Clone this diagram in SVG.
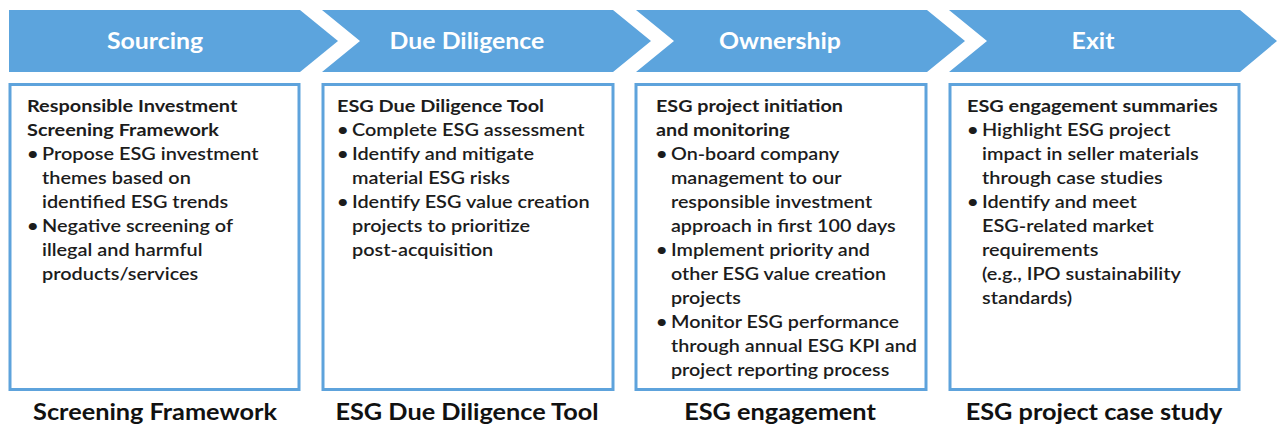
<svg xmlns="http://www.w3.org/2000/svg" width="1277" height="426" viewBox="0 0 1277 426">
  <defs>
    <style>
      .chev { fill: #5ca4dd; }
      .phase { font-family: Lato, "Liberation Sans", sans-serif; font-weight: 700; font-size: 22px; fill: #ffffff; text-anchor: middle; }
      .box { fill: #ffffff; stroke: #5ea3dc; stroke-width: 3; }
      .txt { font-family: Lato, "Liberation Sans", sans-serif; font-size: 17px; fill: #1c1c1c; font-weight: 600; }
      .hd { font-weight: 700; }
      .tool { font-family: Lato, "Liberation Sans", sans-serif; font-weight: 700; font-size: 22px; fill: #111111; text-anchor: middle; }
    </style>
  </defs>
  <rect width="1277" height="426" fill="#ffffff"/>

  <!-- phase chevrons; labels are set slightly wide -->
  <g id="phases">
    <g id="phase-sourcing">
      <polygon class="chev" points="9,10 300,10 338,41 300,72 9,72"/>
      <text class="phase" transform="translate(155,49) scale(1.13,1)">Sourcing</text>
    </g>
    <g id="phase-due-diligence">
      <polygon class="chev" points="322,10 613,10 651,41 613,72 322,72 360,41"/>
      <text class="phase" transform="translate(467,49) scale(1.13,1)">Due Diligence</text>
    </g>
    <g id="phase-ownership">
      <polygon class="chev" points="636,10 927,10 965,41 927,72 636,72 674,41"/>
      <text class="phase" transform="translate(780,49) scale(1.13,1)">Ownership</text>
    </g>
    <g id="phase-exit">
      <polygon class="chev" points="949,10 1240,10 1277,41 1240,72 949,72 987,41"/>
      <text class="phase" transform="translate(1093,49) scale(1.13,1)">Exit</text>
    </g>
  </g>

  <!-- detail boxes: text blocks are widened horizontally by 1.17 -->
  <g id="box-sourcing">
    <rect class="box" x="10" y="84.5" width="289" height="305"/>
    <g transform="translate(27,0) scale(1.17,1)">
      <text class="txt hd" x="0" y="112">Responsible Investment</text>
      <text class="txt hd" x="0" y="136">Screening Framework</text>
      <text class="txt" x="0" y="160">•</text>
      <text class="txt" x="12.8" y="160">Propose ESG investment</text>
      <text class="txt" x="12.8" y="184">themes based on</text>
      <text class="txt" x="12.8" y="208">identified ESG trends</text>
      <text class="txt" x="0" y="232">•</text>
      <text class="txt" x="12.8" y="232">Negative screening of</text>
      <text class="txt" x="12.8" y="256">illegal and harmful</text>
      <text class="txt" x="12.8" y="280">products/services</text>
    </g>
  </g>

  <g id="box-due-diligence">
    <rect class="box" x="323" y="84.5" width="290" height="305"/>
    <g transform="translate(337,0) scale(1.17,1)">
      <text class="txt hd" x="0" y="112">ESG Due Diligence Tool</text>
      <text class="txt" x="0" y="136">•</text>
      <text class="txt" x="12.8" y="136">Complete ESG assessment</text>
      <text class="txt" x="0" y="160">•</text>
      <text class="txt" x="12.8" y="160">Identify and mitigate</text>
      <text class="txt" x="12.8" y="184">material ESG risks</text>
      <text class="txt" x="0" y="208">•</text>
      <text class="txt" x="12.8" y="208">Identify ESG value creation</text>
      <text class="txt" x="12.8" y="232">projects to prioritize</text>
      <text class="txt" x="12.8" y="256">post-acquisition</text>
    </g>
  </g>

  <g id="box-ownership">
    <rect class="box" x="636" y="84.5" width="290" height="305"/>
    <g transform="translate(656,0) scale(1.16,1)">
      <text class="txt hd" x="0" y="112">ESG project initiation</text>
      <text class="txt hd" x="0" y="136">and monitoring</text>
      <text class="txt" x="0" y="160">•</text>
      <text class="txt" x="12.9" y="160">On-board company</text>
      <text class="txt" x="12.9" y="184">management to our</text>
      <text class="txt" x="12.9" y="208">responsible investment</text>
      <text class="txt" x="12.9" y="232">approach in first 100 days</text>
      <text class="txt" x="0" y="256">•</text>
      <text class="txt" x="12.9" y="256">Implement priority and</text>
      <text class="txt" x="12.9" y="280">other ESG value creation</text>
      <text class="txt" x="12.9" y="304">projects</text>
      <text class="txt" x="0" y="328">•</text>
      <text class="txt" x="12.9" y="328">Monitor ESG performance</text>
      <text class="txt" x="12.9" y="352">through annual ESG KPI and</text>
      <text class="txt" x="12.9" y="376">project reporting process</text>
    </g>
  </g>

  <g id="box-exit">
    <rect class="box" x="950" y="84.5" width="289" height="305"/>
    <g transform="translate(967,0) scale(1.17,1)">
      <text class="txt hd" x="0" y="112">ESG engagement summaries</text>
      <text class="txt" x="0" y="136">•</text>
      <text class="txt" x="12.8" y="136">Highlight ESG project</text>
      <text class="txt" x="12.8" y="160">impact in seller materials</text>
      <text class="txt" x="12.8" y="184">through case studies</text>
      <text class="txt" x="0" y="208">•</text>
      <text class="txt" x="12.8" y="208">Identify and meet</text>
      <text class="txt" x="12.8" y="232">ESG-related market</text>
      <text class="txt" x="12.8" y="256">requirements</text>
      <text class="txt" x="12.8" y="280">(e.g., IPO sustainability</text>
      <text class="txt" x="12.8" y="304">standards)</text>
    </g>
  </g>

  <!-- tool captions under each box -->
  <g id="captions">
    <text class="tool" transform="translate(155,420) scale(1.15,1)">Screening Framework</text>
    <text class="tool" transform="translate(467,420) scale(1.15,1)">ESG Due Diligence Tool</text>
    <text class="tool" transform="translate(780,420) scale(1.15,1)">ESG engagement</text>
    <text class="tool" transform="translate(1094,420) scale(1.15,1)">ESG project case study</text>
  </g>

  <!-- the chevrons carry the flow; no separate connector lines -->
  <g id="connectors"/>
</svg>
